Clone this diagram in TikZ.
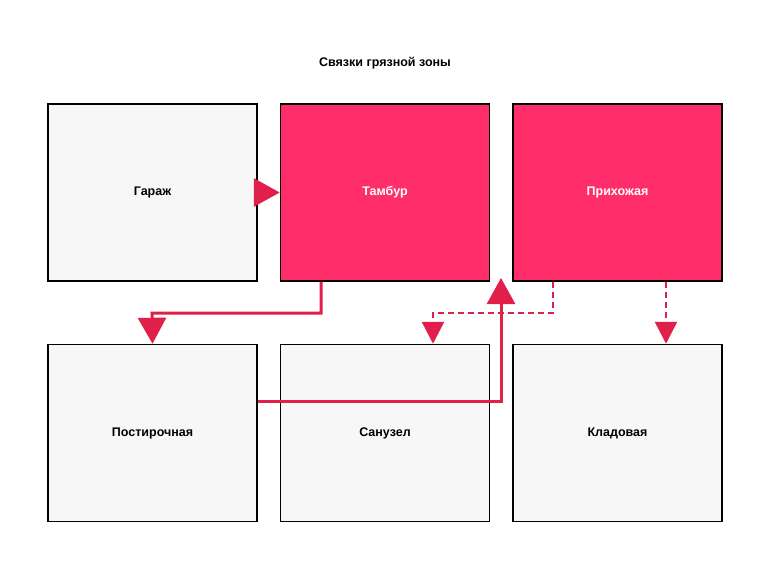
\documentclass[tikz,border=0pt]{standalone}
\usepackage{fontspec}
\setmainfont{Liberation Sans}
\usetikzlibrary{arrows.meta,positioning}
\definecolor{roomgray}{HTML}{F7F7F7}
\definecolor{roompink}{HTML}{FF2E6B}
\definecolor{linkred}{HTML}{E0204A}
\tikzset{room/.style={draw, line width=1.5pt, minimum width=209pt, minimum height=177pt, inner sep=0pt, fill=roomgray, font=\bfseries\fontsize{12.5}{15}\selectfont},
  hot/.style={room, fill=roompink, text=white},
  link/.style={draw=linkred, line width=3pt, -{Triangle[width=28pt,length=26pt]}},
  soft/.style={link, dashed, dash pattern=on 6pt off 4pt, line width=2.5pt, -{Triangle[width=22pt,length=22pt]}}}

\begin{document}
\begin{tikzpicture}[x=1pt,y=-1pt]
        \useasboundingbox (0,0) rectangle (770,578);
        \node[font=\bfseries\fontsize{12.5}{15}\selectfont] (title) at (385,63) {Связки грязной зоны};
        \node[room] (garage) at (152.5,192.5) {Гараж};
        \node[hot] (tambur) at (385,192.5) {Тамбур};
        \node[hot] (hall) at (617.5,192.5) {Прихожая};
        \node[room] (laundry) at (152.5,433) {Постирочная};
        \node[room] (bath) at (385,433) {Санузел};
        \node[room] (pantry) at (617.5,433) {Кладовая};
        \coordinate (gap) at (501,278);
        \draw[link] (garage) -- (tambur);
        \draw[link] (tambur.south -| 321,0) |- (152,313) -- (laundry.north);
        \draw[link] (laundry.east |- 0,401) -| (gap);
        \draw[soft] (hall.south -| 553,0) |- (433,313) -- (bath.north -| 433,0);
        \draw[soft] (hall.south -| 666,0) -- (pantry.north -| 666,0);
    \end{tikzpicture}
\end{document}
